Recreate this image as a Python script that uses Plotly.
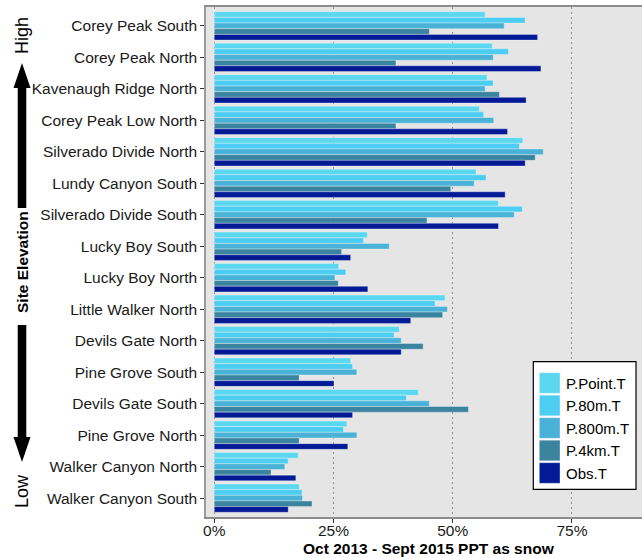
import plotly.graph_objects as go

# Sites ordered from highest to lowest elevation
sites = ["Corey Peak South", "Corey Peak North", "Kavenaugh Ridge North",
         "Corey Peak Low North", "Silverado Divide North", "Lundy Canyon South",
         "Silverado Divide South", "Lucky Boy South", "Lucky Boy North",
         "Little Walker North", "Devils Gate North", "Pine Grove South",
         "Devils Gate South", "Pine Grove North", "Walker Canyon North",
         "Walker Canyon South"]

# Percent of precipitation falling as snow, Oct 2013 - Sept 2015
p_point = [56.8, 58.3, 57.2, 55.6, 64.7, 54.9, 59.6, 32.1, 26.1, 48.4, 38.8, 28.6, 42.8, 27.8, 17.6, 17.8]
p_80m = [65.2, 61.7, 58.5, 56.5, 64.0, 57.0, 64.6, 31.3, 27.6, 46.3, 37.7, 29.0, 40.3, 27.1, 15.5, 18.4]
p_800m = [60.8, 58.5, 56.8, 58.6, 69.0, 54.5, 62.9, 36.7, 25.3, 48.9, 39.2, 29.9, 45.1, 29.9, 14.8, 18.5]
p_4km = [45.1, 38.1, 59.8, 38.1, 67.3, 49.6, 44.6, 26.7, 26.0, 47.9, 43.8, 17.8, 53.3, 17.8, 11.9, 20.5]
obs = [67.8, 68.5, 65.4, 61.5, 65.2, 61.0, 59.6, 28.6, 32.2, 41.2, 39.2, 25.1, 29.0, 28.0, 17.1, 15.5]

series_names = ["P.Point.T", "P.80m.T", "P.800m.T", "P.4km.T", "Obs.T"]
series_values = [p_point, p_80m, p_800m, p_4km, obs]
series_colors = ["#5BD8F0", "#4ECDF2", "#49B2D6", "#3A84A0", "#021A96"]

x_ticks = [0, 25, 50, 75]
x_tick_labels = ["0%", "25%", "50%", "75%"]

W, H = 642, 558
L, R, T, B = 206, 0, 7, 41
PW, PH = W - L - R, H - T - B


def px(x):
    return (x - L) / PW


def py(y):
    return (H - B - y) / PH


FONT = "Liberation Sans, Arial, sans-serif"

fig = go.Figure()
for name, vals, col in zip(series_names, series_values, series_colors):
    fig.add_trace(go.Bar(
        y=sites, x=vals, name=name, orientation="h", showlegend=False,
        marker=dict(color=col, line=dict(color="rgba(255,255,255,0.55)", width=0.6)),
    ))

shapes = []
annotations = []

# Elevation arrows to the left of the site labels
cx = 22
shapes.append(dict(type="rect", xref="paper", yref="paper",
                   x0=px(cx - 4.3), x1=px(cx + 4.3), y0=py(208), y1=py(86),
                   fillcolor="black", line=dict(width=0)))
shapes.append(dict(type="path", xref="paper", yref="paper",
                   path=f"M {px(cx - 8.5)} {py(88)} L {px(cx + 8.5)} {py(88)} L {px(cx)} {py(63)} Z",
                   fillcolor="black", line=dict(width=0)))
shapes.append(dict(type="rect", xref="paper", yref="paper",
                   x0=px(cx - 4.3), x1=px(cx + 4.3), y0=py(325), y1=py(440),
                   fillcolor="black", line=dict(width=0)))
shapes.append(dict(type="path", xref="paper", yref="paper",
                   path=f"M {px(cx - 8.5)} {py(437)} L {px(cx + 8.5)} {py(437)} L {px(cx)} {py(462)} Z",
                   fillcolor="black", line=dict(width=0)))

for txt, yc, sz in [("High", 36, 18), ("<b>Site Elevation</b>", 262, 15.5), ("Low", 491, 18)]:
    annotations.append(dict(text=txt, x=px(cx), y=py(yc), xref="paper", yref="paper",
                            xanchor="center", yanchor="middle", showarrow=False,
                            textangle=-90, font=dict(family=FONT, size=sz, color="black")))

# x axis title
annotations.append(dict(text="<b>Oct 2013 - Sept 2015 PPT as snow</b>", x=px(429), y=py(548),
                        xref="paper", yref="paper", xanchor="center", yanchor="middle",
                        showarrow=False, font=dict(family=FONT, size=15.5, color="black")))

# Legend box with swatches
lx0, lx1, ly0, ly1 = 533.3, 636, 361.7, 489.3
shapes.append(dict(type="rect", xref="paper", yref="paper",
                   x0=px(lx0), x1=px(lx1), y0=py(ly1), y1=py(ly0),
                   fillcolor="white", line=dict(color="black", width=1.2)))
for i, (name, col) in enumerate(zip(series_names, series_colors)):
    top = 372.7 + 22.5 * i
    shapes.append(dict(type="rect", xref="paper", yref="paper",
                       x0=px(539.3), x1=px(560), y0=py(top + 20.6), y1=py(top),
                       fillcolor=col, line=dict(color="rgba(255,255,255,0.6)", width=0.6)))
    annotations.append(dict(text=name, x=px(563.5), y=py(top + 10.3), xref="paper", yref="paper",
                            xanchor="left", yanchor="middle", showarrow=False,
                            font=dict(family=FONT, size=15, color="black")))

fig.update_layout(
    width=W, height=H,
    margin=dict(l=L, r=R, t=T, b=B, pad=0),
    paper_bgcolor="white", plot_bgcolor="#E5E5E5",
    barmode="group", bargap=0.1, bargroupgap=0,
    font=dict(family=FONT, size=15.5, color="#1a1a1a"),
    shapes=shapes, annotations=annotations, showlegend=False,
)
fig.update_xaxes(
    range=[-1.74, 89.7], tickvals=x_ticks, ticktext=x_tick_labels,
    showgrid=True, gridcolor="#8f8f8f", griddash="1.5px,3.5px", gridwidth=1.2,
    zeroline=False, showline=True, linecolor="#8c8c8c", linewidth=1.5, mirror=True,
    ticks="outside", ticklen=4, tickcolor="#333", ticklabelstandoff=-5,
    tickfont=dict(family=FONT, size=15.5, color="#1a1a1a"),
)
fig.update_yaxes(
    categoryorder="array", categoryarray=sites, range=[15.6, -0.6],
    showgrid=False, zeroline=False, showline=True, linecolor="#9a9a9a", linewidth=1.5,
    ticks="outside", ticklen=4, tickcolor="#333",
    tickfont=dict(family=FONT, size=15.5, color="#1a1a1a"),
)

fig.write_html("out.html")
